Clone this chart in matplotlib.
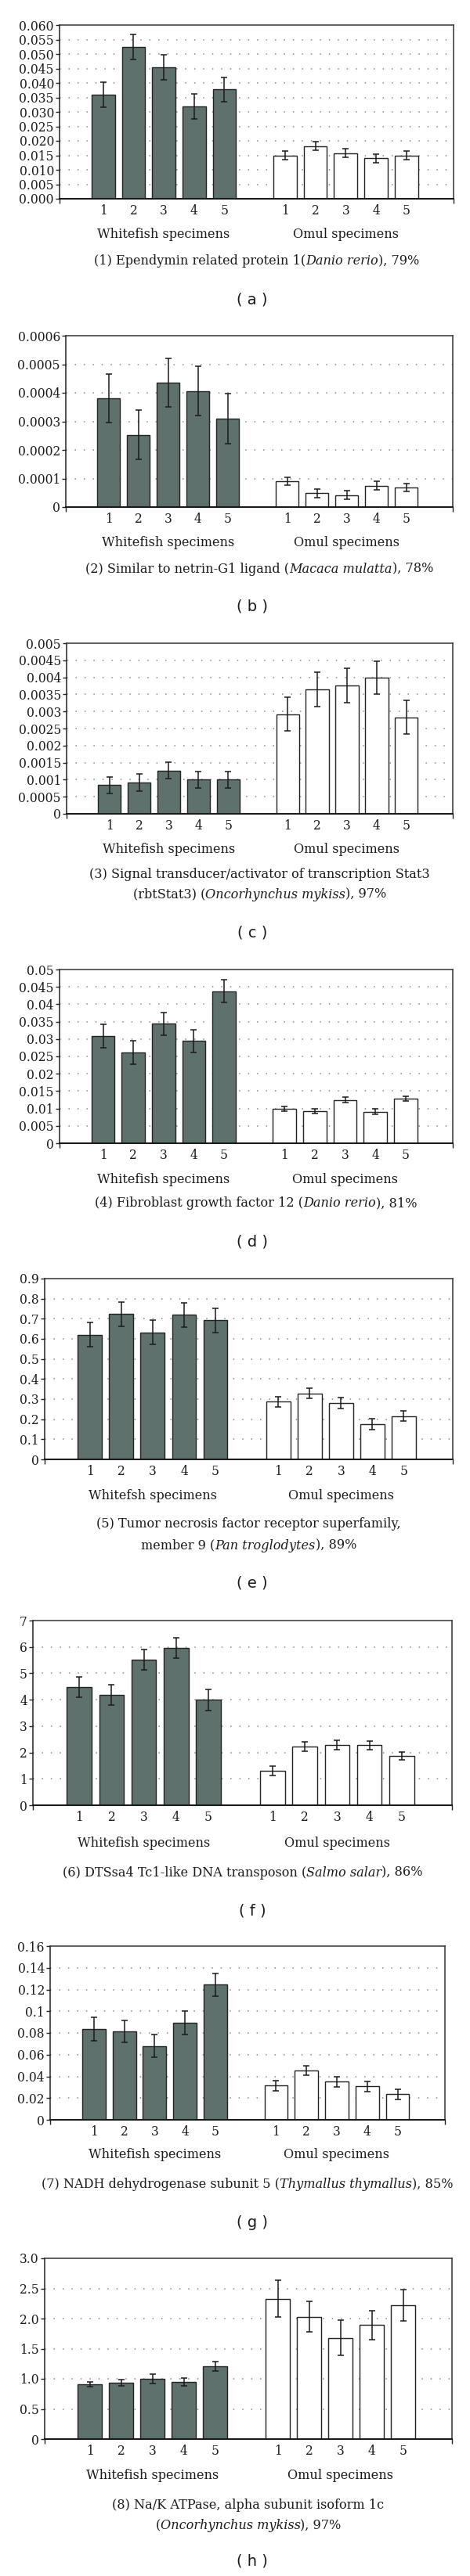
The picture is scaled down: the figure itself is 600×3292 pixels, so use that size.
import matplotlib
matplotlib.use("Agg")
import matplotlib.pyplot as plt
import matplotlib.transforms as mtransforms
from matplotlib.ticker import FixedLocator

# ---------------- data ----------------
specimens = ["1", "2", "3", "4", "5"]
group_names = ["Whitefish specimens", "Omul specimens"]

whitefish_a = [0.0360, 0.0525, 0.0455, 0.0320, 0.0378]
whitefish_a_err = [0.0043, 0.0043, 0.0043, 0.0043, 0.0042]
omul_a = [0.0150, 0.0182, 0.0158, 0.0140, 0.0150]
omul_a_err = [0.0016, 0.0015, 0.0015, 0.0015, 0.0016]

whitefish_b = [0.000381, 0.000253, 0.000436, 0.000406, 0.000310]
whitefish_b_err = [0.000086, 0.000086, 0.000085, 0.000086, 0.000087]
omul_b = [0.0000907, 0.0000486, 0.0000412, 0.0000751, 0.0000687]
omul_b_err = [0.000014, 0.000015, 0.000015, 0.000014, 0.000014]

whitefish_c = [0.000838, 0.000923, 0.00127, 0.00100, 0.00100]
whitefish_c_err = [0.00025, 0.00025, 0.00024, 0.00025, 0.00025]
omul_c = [0.00292, 0.00365, 0.00376, 0.00399, 0.00283]
omul_c_err = [0.00050, 0.00050, 0.00050, 0.00049, 0.00050]

whitefish_d = [0.0309, 0.0262, 0.0344, 0.0294, 0.0438]
whitefish_d_err = [0.0034, 0.0034, 0.0033, 0.0033, 0.0033]
omul_d = [0.0099, 0.0093, 0.0125, 0.0091, 0.0129]
omul_d_err = [0.0007, 0.0007, 0.0007, 0.0007, 0.0007]

whitefish_e = [0.620, 0.724, 0.633, 0.719, 0.692]
whitefish_e_err = [0.060, 0.060, 0.060, 0.060, 0.060]
omul_e = [0.287, 0.329, 0.281, 0.177, 0.215]
omul_e_err = [0.026, 0.025, 0.026, 0.027, 0.026]

whitefish_f = [4.48, 4.19, 5.51, 5.97, 3.99]
whitefish_f_err = [0.38, 0.39, 0.39, 0.38, 0.39]
omul_f = [1.30, 2.23, 2.29, 2.27, 1.87]
omul_f_err = [0.17, 0.17, 0.17, 0.17, 0.16]

whitefish_g = [0.0834, 0.0812, 0.0680, 0.0896, 0.1245]
whitefish_g_err = [0.0108, 0.0101, 0.0103, 0.0108, 0.0105]
omul_g = [0.0315, 0.0456, 0.0351, 0.0307, 0.0235]
omul_g_err = [0.0045, 0.0044, 0.0045, 0.0046, 0.0048]

whitefish_h = [0.906, 0.936, 1.00, 0.945, 1.21]
whitefish_h_err = [0.04, 0.05, 0.08, 0.065, 0.08]
omul_h = [2.33, 2.03, 1.68, 1.89, 2.215]
omul_h_err = [0.30, 0.25, 0.29, 0.24, 0.26]

yticks_a = [0.000, 0.005, 0.010, 0.015, 0.020, 0.025, 0.030, 0.035, 0.040, 0.045, 0.050, 0.055, 0.060]
ylabels_a = ["0.000", "0.005", "0.010", "0.015", "0.020", "0.025", "0.030", "0.035", "0.040", "0.045", "0.050", "0.055", "0.060"]
yticks_b = [0, 0.0001, 0.0002, 0.0003, 0.0004, 0.0005, 0.0006]
ylabels_b = ["0", "0.0001", "0.0002", "0.0003", "0.0004", "0.0005", "0.0006"]
yticks_c = [0, 0.0005, 0.001, 0.0015, 0.002, 0.0025, 0.003, 0.0035, 0.004, 0.0045, 0.005]
ylabels_c = ["0", "0.0005", "0.001", "0.0015", "0.002", "0.0025", "0.003", "0.0035", "0.004", "0.0045", "0.005"]
yticks_d = [0, 0.005, 0.01, 0.015, 0.02, 0.025, 0.03, 0.035, 0.04, 0.045, 0.05]
ylabels_d = ["0", "0.005", "0.01", "0.015", "0.02", "0.025", "0.03", "0.035", "0.04", "0.045", "0.05"]
yticks_e = [0, 0.1, 0.2, 0.3, 0.4, 0.5, 0.6, 0.7, 0.8, 0.9]
ylabels_e = ["0", "0.1", "0.2", "0.3", "0.4", "0.5", "0.6", "0.7", "0.8", "0.9"]
yticks_f = [0, 1, 2, 3, 4, 5, 6, 7]
ylabels_f = ["0", "1", "2", "3", "4", "5", "6", "7"]
yticks_g = [0, 0.02, 0.04, 0.06, 0.08, 0.10, 0.12, 0.14, 0.16]
ylabels_g = ["0", "0.02", "0.04", "0.06", "0.08", "0.1", "0.12", "0.14", "0.16"]
yticks_h = [0, 0.5, 1.0, 1.5, 2.0, 2.5, 3.0]
ylabels_h = ["0", "0.5", "1.0", "1.5", "2.0", "2.5", "3.0"]

N, I = "normal", "italic"
caption_a = [[("(1) Ependymin related protein 1(", N), ("Danio rerio", I), ("), 79%", N)]]
caption_b = [[("(2) Similar to netrin-G1 ligand (", N), ("Macaca mulatta", I), ("), 78%", N)]]
caption_c = [[("(3) Signal transducer/activator of transcription Stat3", N)],
             [("(rbtStat3) (", N), ("Oncorhynchus mykiss", I), ("), 97%", N)]]
caption_d = [[("(4) Fibroblast growth factor 12 (", N), ("Danio rerio", I), ("), 81%", N)]]
caption_e = [[("(5) Tumor necrosis factor receptor superfamily,", N)],
             [("member 9 (", N), ("Pan troglodytes", I), ("), 89%", N)]]
caption_f = [[("(6) DTSsa4 Tc1-like DNA transposon (", N), ("Salmo salar", I), ("), 86%", N)]]
caption_g = [[("(7) NADH dehydrogenase subunit 5 (", N), ("Thymallus thymallus", I), ("), 85%", N)]]
caption_h = [[("(8) Na/K ATPase, alpha subunit isoform 1c", N)],
             [("(", N), ("Oncorhynchus mykiss", I), ("), 97%", N)]]

panel_letters = ["a", "b", "c", "d", "e", "f", "g", "h"]
whitefish_group_names = ["Whitefish specimens"] * 4 + ["Whitefsh specimens"] + ["Whitefish specimens"] * 3

# ---------------- layout (pixels) ----------------
W, H = 600, 3292
layout = [
    dict(box=(76, 579, 32, 254), grp=300, cap=[334], let=383),
    dict(box=(84, 578, 429, 648), grp=693, cap=[727], let=775),
    dict(box=(85, 578, 822, 1040), grp=1085, cap=[1117, 1143], let=1192),
    dict(box=(76, 578, 1239, 1461), grp=1507, cap=[1538], let=1587),
    dict(box=(57, 578, 1634, 1865), grp=1912, cap=[1948, 1975], let=2023),
    dict(box=(42, 577, 2071, 2307), grp=2356, cap=[2393], let=2442),
    dict(box=(64, 568, 2487, 2709), grp=2753, cap=[2792], let=2840),
    dict(box=(57, 577, 2886, 3117), grp=3164, cap=[3202, 3228], let=3273),
]

panels = [
    (whitefish_a, whitefish_a_err, omul_a, omul_a_err, yticks_a, ylabels_a, caption_a),
    (whitefish_b, whitefish_b_err, omul_b, omul_b_err, yticks_b, ylabels_b, caption_b),
    (whitefish_c, whitefish_c_err, omul_c, omul_c_err, yticks_c, ylabels_c, caption_c),
    (whitefish_d, whitefish_d_err, omul_d, omul_d_err, yticks_d, ylabels_d, caption_d),
    (whitefish_e, whitefish_e_err, omul_e, omul_e_err, yticks_e, ylabels_e, caption_e),
    (whitefish_f, whitefish_f_err, omul_f, omul_f_err, yticks_f, ylabels_f, caption_f),
    (whitefish_g, whitefish_g_err, omul_g, omul_g_err, yticks_g, ylabels_g, caption_g),
    (whitefish_h, whitefish_h_err, omul_h, omul_h_err, yticks_h, ylabels_h, caption_h),
]

SERIF = "DejaVu Serif"
FS = 11.2
CAP_FS = 11.6
TXT = "#1a1a1a"
BAR_DARK = "#5f716c"

plt.rcParams["font.family"] = [SERIF, "Liberation Serif"]

fig = plt.figure(figsize=(W / 100, H / 100), dpi=100)
fig.patch.set_facecolor("white")
renderer = fig.canvas.get_renderer()

wf_x = [1, 2, 3, 4, 5]
om_x = [7, 8, 9, 10, 11]
XLIM = (-0.44, 12.56)


def rich_line(parts, cx, ypx, size):
    texts = []
    for s, st in parts:
        t = fig.text(0, 0, s, fontsize=size, family=SERIF, style=st, color=TXT,
                     ha="left", va="center", transform=None)
        texts.append(t)
    widths = [t.get_window_extent(renderer).width for t in texts]
    x = cx - sum(widths) / 2
    for t, w in zip(texts, widths):
        t.set_position((x, H - ypx))
        x += w


for (wf, wfe, om, ome, yt, yl, cap), lay, letter, wname in zip(panels, layout, panel_letters, whitefish_group_names):
    l, r, t, b = lay["box"]
    ax = fig.add_axes([l / W, 1 - b / H, (r - l) / W, (b - t) / H])
    ax.set_xlim(*XLIM)
    ax.set_ylim(yt[0], yt[-1])

    for yv in yt[1:-1]:
        ax.axhline(yv, color="#8a8a8a", lw=1.1, linestyle=(0, (1, 6.5)), zorder=0)

    ax.bar(wf_x, wf, width=0.77, color=BAR_DARK, edgecolor="#222222", linewidth=1.0, zorder=2)
    ax.bar(om_x, om, width=0.77, color="white", edgecolor="#222222", linewidth=1.0, zorder=2)
    ax.errorbar(wf_x, wf, yerr=wfe, fmt="none", ecolor="#1a1a1a", elinewidth=1.1,
                capsize=3.0, capthick=1.1, zorder=3)
    ax.errorbar(om_x, om, yerr=ome, fmt="none", ecolor="#1a1a1a", elinewidth=1.1,
                capsize=3.0, capthick=1.1, zorder=3)

    ax.set_yticks(yt)
    ax.set_yticklabels(yl, fontsize=FS, color=TXT)
    ax.tick_params(axis="y", direction="out", length=3.6, width=1.0, pad=1.5, color="#222222")

    ax.set_xticks(wf_x + om_x)
    ax.set_xticklabels(specimens + specimens, fontsize=FS, color=TXT)
    ax.tick_params(axis="x", which="major", length=0, pad=5)
    ax.xaxis.set_minor_locator(FixedLocator(list(XLIM)))
    ax.tick_params(axis="x", which="minor", direction="out", length=4.5, width=1.0, color="#222222")

    for side in ("top", "right"):
        ax.spines[side].set_color("#333333")
        ax.spines[side].set_linewidth(1.1)
    ax.spines["left"].set_color("#222222")
    ax.spines["left"].set_linewidth(1.1)
    ax.spines["bottom"].set_color("#1a1a1a")
    ax.spines["bottom"].set_linewidth(1.5)

    trans = mtransforms.blended_transform_factory(ax.transData, fig.transFigure)
    ax.text(3, 1 - lay["grp"] / H, wname, transform=trans, ha="center", va="center",
            fontsize=CAP_FS, color=TXT, family=SERIF)
    ax.text(9, 1 - lay["grp"] / H, group_names[1], transform=trans, ha="center", va="center",
            fontsize=CAP_FS, color=TXT, family=SERIF)

    cx = (l + r) / 2
    for line, ypx in zip(cap, lay["cap"]):
        rich_line(line, cx, ypx, CAP_FS)

    fig.text(322 / W, 1 - lay["let"] / H, "( %s )" % letter, ha="center", va="center",
             fontsize=14, color=TXT, family="DejaVu Sans")

fig.savefig("out.png", dpi=100, facecolor="white")
